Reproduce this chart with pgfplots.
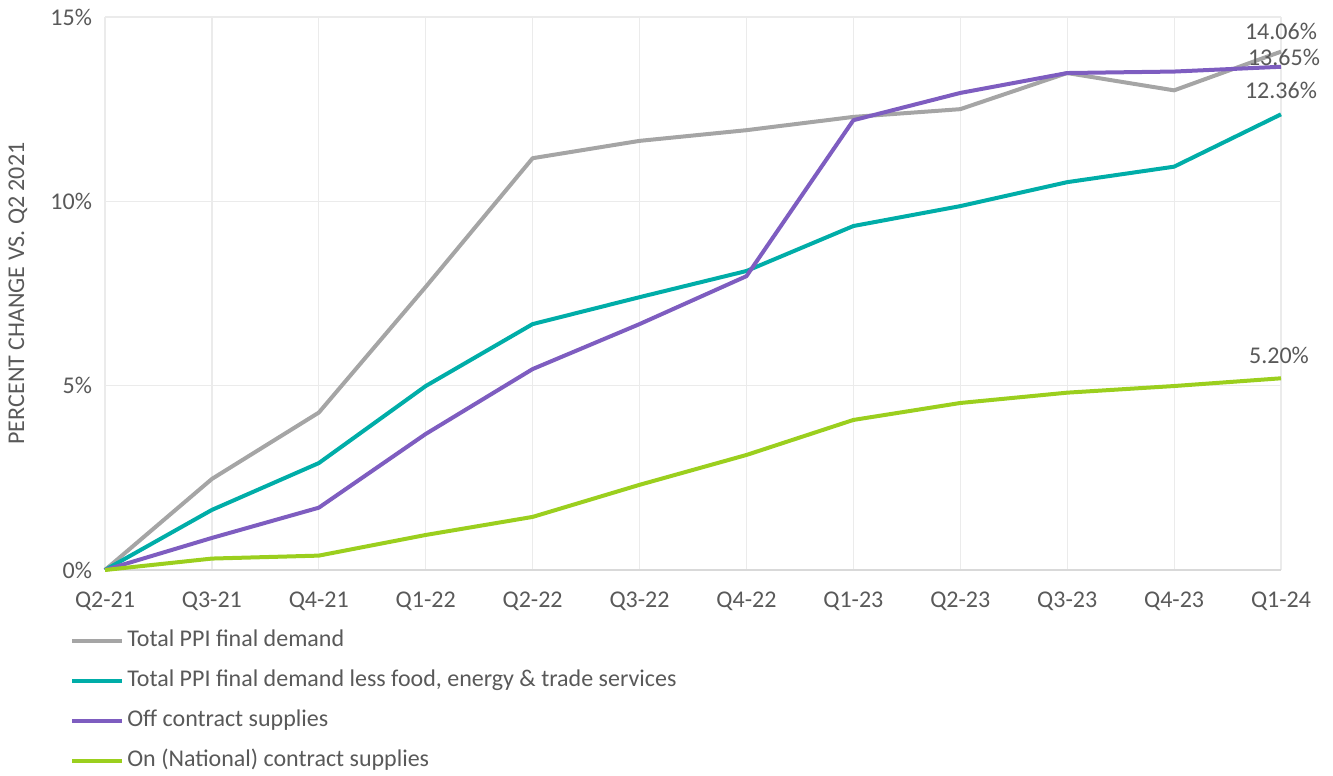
\documentclass[border=0pt]{standalone}
\usepackage{pgfplots}
\pgfplotsset{compat=1.18}
\usepackage{fontspec}
\setmainfont{Carlito}
\definecolor{txt}{HTML}{595959}
\definecolor{cgray}{HTML}{A5A5A5}
\definecolor{cteal}{HTML}{00ADA8}
\definecolor{cpurple}{HTML}{7E5DC0}
\definecolor{cgreen}{HTML}{9BCF1E}
\definecolor{gridc}{HTML}{EBEBEB}
\definecolor{axc}{HTML}{D9D9D9}
\begin{document}
\begin{tikzpicture}
\begin{axis}[
  scale only axis,
  width=588pt, height=276.5pt,
  xmin=0, xmax=11, ymin=0, ymax=15,
  xtick={0,...,11},
  xticklabels={Q2-21,Q3-21,Q4-21,Q1-22,Q2-22,Q3-22,Q4-22,Q1-23,Q2-23,Q3-23,Q4-23,Q1-24},
  ytick={0,5,10,15},
  yticklabels={0\%,5\%,10\%,15\%},
  /pgf/number format/assume math mode=true,
  tick label style={font=\fontsize{12}{14}\selectfont, text=txt},
  xticklabel style={yshift=-7.5pt},
  yticklabel style={xshift=-3pt},
  major tick length=0pt,
  grid=major,
  major grid style={gridc, line width=0.6pt},
  axis x line*=bottom, axis y line*=left,
  x axis line style={axc, line width=0.7pt, -},
  y axis line style={gridc, line width=0.6pt, -},
  ylabel={PERCENT CHANGE VS. Q2 2021},
  ylabel style={at={(axis description cs:-0.074,0.5)}, anchor=center, font=\fontsize{12}{14}\selectfont, text=txt},
  legend style={at={(axis description cs:-0.0298,-0.1)}, anchor=north west, draw=none, fill=none,
    font=\fontsize{12}{14}\selectfont, text=txt, row sep=5pt, inner sep=0pt,
    nodes={inner sep=1.5pt, text height=9pt, text depth=3pt}},
  legend cell align=left,
  legend image code/.code={\draw[#1] (0pt,0pt) -- (25pt,0pt);},
  every axis plot/.append style={line width=2pt, line join=round},
  clip=false,
]
\addplot[cgray] coordinates {(0,0) (1,2.47) (2,4.27) (3,7.68) (4,11.17) (5,11.64) (6,11.93) (7,12.29) (8,12.50) (9,13.48) (10,13.01) (11,14.06)};
\addlegendentry{Total PPI final demand}
\addplot[cteal] coordinates {(0,0) (1,1.63) (2,2.90) (3,4.99) (4,6.67) (5,7.40) (6,8.11) (7,9.33) (8,9.87) (9,10.52) (10,10.94) (11,12.36)};
\addlegendentry{Total PPI final demand less food, energy \& trade services}
\addplot[cpurple] coordinates {(0,0) (1,0.87) (2,1.69) (3,3.69) (4,5.45) (5,6.67) (6,7.97) (7,12.20) (8,12.94) (9,13.48) (10,13.52) (11,13.65)};
\addlegendentry{Off contract supplies}
\addplot[cgreen] coordinates {(0,0) (1,0.31) (2,0.39) (3,0.95) (4,1.44) (5,2.31) (6,3.12) (7,4.07) (8,4.53) (9,4.81) (10,4.99) (11,5.20)};
\addlegendentry{On (National) contract supplies}
\node[font=\fontsize{12}{14}\selectfont, text=txt] at ([yshift=10pt]axis cs:11,14.06) {14.06\%};
\node[font=\fontsize{12}{14}\selectfont, text=txt] at ([xshift=1.5pt,yshift=4.5pt]axis cs:11,13.65) {13.65\%};
\node[font=\fontsize{12}{14}\selectfont, text=txt] at ([yshift=12pt]axis cs:11,12.36) {12.36\%};
\node[font=\fontsize{12}{14}\selectfont, text=txt] at ([xshift=-1pt,yshift=11.5pt]axis cs:11,5.20) {5.20\%};
\end{axis}
\path[use as bounding box] (-52.5pt,-100pt) rectangle (614pt,285pt);
\end{tikzpicture}
\end{document}
